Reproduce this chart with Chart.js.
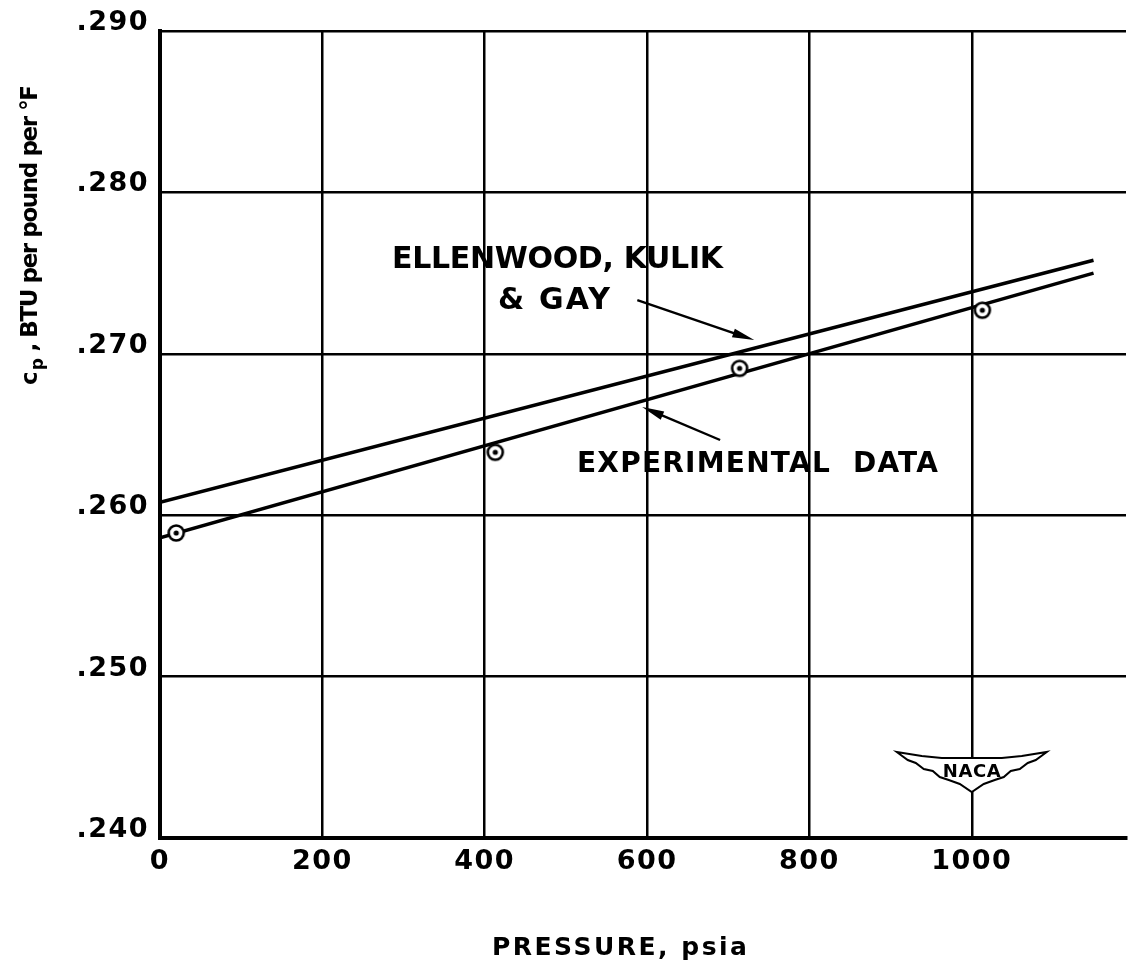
<!DOCTYPE html>
<html>
<head>
<meta charset="utf-8">
<script src="https://cdn.jsdelivr.net/npm/chart.js@4/dist/chart.umd.min.js"></script>
<style>
  html, body { margin: 0; padding: 0; background: #fff; }
  canvas { display: block; }
</style>
</head>
<body>
<canvas id="cpChart" width="1138" height="971"></canvas>
<script>
// measured points (circles)
const pressurePts = [20, 413, 714, 1013];
const cpPts = [0.2589, 0.2639, 0.2691, 0.2727];

// faired lines (end points)
const linePressure = [0, 1150];
const cpExperimental = [0.2586, 0.2750];
const cpEllenwood = [0.2608, 0.2758];

const xTickValues = [0, 200, 400, 600, 800, 1000];
const yTickValues = [0.240, 0.250, 0.260, 0.270, 0.280, 0.290];

const FONT = "'DejaVu Sans', sans-serif";

function toXY(xs, ys) {
  return xs.map((x, i) => ({ x: x, y: ys[i] }));
}

// circle with dot marker
function makeMarker() {
  const c = document.createElement('canvas');
  c.width = 22; c.height = 22;
  const g = c.getContext('2d');
  g.beginPath();
  g.arc(11, 11, 7.5, 0, Math.PI * 2);
  g.fillStyle = '#fff';
  g.fill();
  g.lineWidth = 2.6;
  g.strokeStyle = '#000';
  g.stroke();
  g.beginPath();
  g.arc(11, 11, 2.6, 0, Math.PI * 2);
  g.fillStyle = '#000';
  g.fill();
  return c;
}

// draw text stretched to a given width via letter spacing
function fitText(ctx, text, x, y, width) {
  ctx.letterSpacing = '0px';
  const w = ctx.measureText(text).width;
  const ls = (width - w) / Math.max(1, text.length - 1);
  ctx.letterSpacing = ls.toFixed(2) + 'px';
  ctx.fillText(text, x, y);
}

function arrow(ctx, x1, y1, x2, y2) {
  const ang = Math.atan2(y2 - y1, x2 - x1);
  const len = 22, half = 4.5;
  ctx.beginPath();
  ctx.moveTo(x1, y1);
  ctx.lineTo(x2 - Math.cos(ang) * len * 0.6, y2 - Math.sin(ang) * len * 0.6);
  ctx.lineWidth = 2.4;
  ctx.strokeStyle = '#000';
  ctx.stroke();
  ctx.beginPath();
  ctx.moveTo(x2, y2);
  ctx.lineTo(x2 - Math.cos(ang) * len - Math.sin(ang) * half, y2 - Math.sin(ang) * len + Math.cos(ang) * half);
  ctx.lineTo(x2 - Math.cos(ang) * len + Math.sin(ang) * half, y2 - Math.sin(ang) * len - Math.cos(ang) * half);
  ctx.closePath();
  ctx.fillStyle = '#000';
  ctx.fill();
}

function nacaLogo(ctx, cx, cy) {
  ctx.save();
  ctx.translate(cx, cy);
  ctx.beginPath();
  ctx.moveTo(-75, -19);
  ctx.lineTo(-50, -15);
  ctx.lineTo(-30, -13);
  ctx.lineTo(30, -13);
  ctx.lineTo(50, -15);
  ctx.lineTo(75, -19);
  ctx.lineTo(64, -11);
  ctx.lineTo(56, -8);
  ctx.lineTo(48, -2);
  ctx.lineTo(39, 0);
  ctx.lineTo(32, 6);
  ctx.lineTo(23, 9);
  ctx.lineTo(12, 13);
  ctx.lineTo(0, 21);
  ctx.lineTo(-12, 13);
  ctx.lineTo(-23, 9);
  ctx.lineTo(-32, 6);
  ctx.lineTo(-39, 0);
  ctx.lineTo(-48, -2);
  ctx.lineTo(-56, -8);
  ctx.lineTo(-64, -11);
  ctx.closePath();
  ctx.fillStyle = '#fff';
  ctx.fill();
  ctx.lineWidth = 2;
  ctx.strokeStyle = '#000';
  ctx.stroke();
  ctx.fillStyle = '#000';
  ctx.textAlign = 'left';
  ctx.textBaseline = 'alphabetic';
  ctx.font = 'bold 18px ' + FONT;
  fitText(ctx, 'NACA', -29, 6, 58);
  ctx.restore();
}

const decorations = {
  id: 'decorations',
  beforeLayout(chart) {
    chart.ctx.letterSpacing = '1.5px';
  },
  beforeDraw(chart) {
    chart.ctx.letterSpacing = '1.5px';
  },
  afterDraw(chart) {
    const ctx = chart.ctx;
    const xs = chart.scales.x, ys = chart.scales.y;
    ctx.save();
    ctx.fillStyle = '#000';
    ctx.textBaseline = 'alphabetic';
    ctx.textAlign = 'left';

    // annotations
    ctx.font = 'bold 30px ' + FONT;
    fitText(ctx, 'ELLENWOOD, KULIK', 392, 268, 331);
    fitText(ctx, '& GAY', 498, 309, 112);
    ctx.font = 'bold 28px ' + FONT;
    fitText(ctx, 'EXPERIMENTAL  DATA', 577, 472, 361);

    arrow(ctx, xs.getPixelForValue(588), ys.getPixelForValue(0.27333),
      xs.getPixelForValue(732), ys.getPixelForValue(0.27085));
    arrow(ctx, xs.getPixelForValue(690), ys.getPixelForValue(0.26466),
      xs.getPixelForValue(594), ys.getPixelForValue(0.26670));

    // x title
    ctx.font = 'bold 25px ' + FONT;
    fitText(ctx, 'PRESSURE, psia', 492, 955, 255);

    // y title, rotated, with subscript p
    ctx.save();
    ctx.translate(37, 385);
    ctx.rotate(-Math.PI / 2);
    ctx.letterSpacing = '0px';
    ctx.font = 'bold 23px ' + FONT;
    let x = 0;
    ctx.fillText('c', x, 0);
    x += ctx.measureText('c').width + 1;
    ctx.font = 'bold 17px ' + FONT;
    ctx.fillText('p', x, 6);
    x += ctx.measureText('p').width;
    ctx.font = 'bold 23px ' + FONT;
    const rest = ' , BTU per pound per \u00B0F';
    fitText(ctx, rest, x, 0, 300 - x);
    ctx.restore();

    nacaLogo(ctx, xs.getPixelForValue(1000), 771);
    ctx.restore();
  }
};

new Chart(document.getElementById('cpChart').getContext('2d'), {
  type: 'scatter',
  data: {
    datasets: [
      {
        label: 'Data points',
        data: toXY(pressurePts, cpPts),
        pointStyle: makeMarker(),
        pointRadius: 11,
        showLine: false
      },
      {
        label: 'Experimental data',
        data: toXY(linePressure, cpExperimental),
        showLine: true,
        borderColor: '#000',
        borderWidth: 3.5,
        pointRadius: 0
      },
      {
        label: 'Ellenwood, Kulik & Gay',
        data: toXY(linePressure, cpEllenwood),
        showLine: true,
        borderColor: '#000',
        borderWidth: 3.5,
        pointRadius: 0
      }
    ]
  },
  options: {
    responsive: false,
    animation: false,
    events: [],
    layout: { padding: { top: 31, right: 0, bottom: 0, left: 0 } },
    plugins: {
      legend: { display: false },
      tooltip: { enabled: false }
    },
    scales: {
      x: {
        type: 'linear',
        min: 0,
        max: 1190,
        afterFit(scale) { scale.height = 133; },
        afterBuildTicks(scale) { scale.ticks = xTickValues.map(v => ({ value: v })); },
        grid: { color: '#000', lineWidth: 2.5, drawTicks: false },
        border: { color: '#000', width: 4 },
        ticks: {
          padding: 8,
          color: '#000',
          font: { family: FONT, size: 27, weight: 'bold' },
          maxRotation: 0,
          callback: v => String(v)
        }
      },
      y: {
        type: 'linear',
        min: 0.240,
        max: 0.290,
        afterFit(scale) { scale.width = 160; },
        afterBuildTicks(scale) { scale.ticks = yTickValues.map(v => ({ value: v })); },
        grid: { color: '#000', lineWidth: 2.5, drawTicks: false },
        border: { color: '#000', width: 4 },
        ticks: {
          padding: 11,
          labelOffset: -8,
          color: '#000',
          font: { family: FONT, size: 27, weight: 'bold' },
          callback: v => v.toFixed(3).replace(/^0/, '')
        }
      }
    }
  },
  plugins: [decorations]
});
</script>
</body>
</html>
